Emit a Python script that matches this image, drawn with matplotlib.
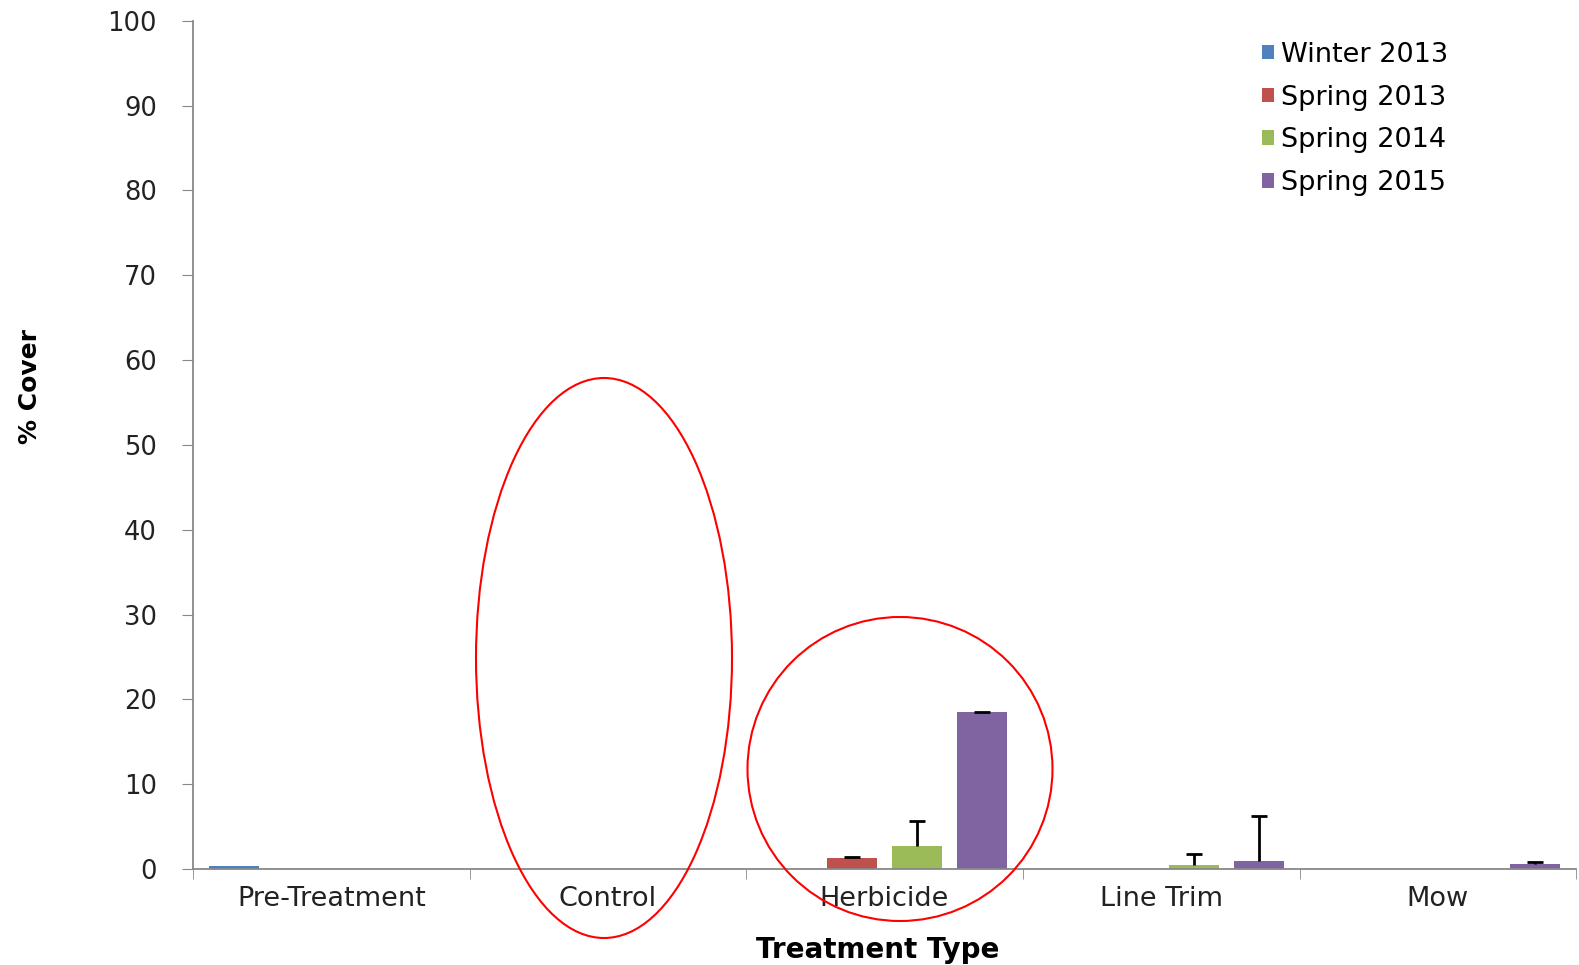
import matplotlib.pyplot as plt
import numpy as np
from matplotlib.patches import Ellipse

plt.rcParams['font.family'] = ['DejaVu Sans']

# Данные: % Cover по типам обработки
treatments = ['Pre-Treatment', 'Control', 'Herbicide', 'Line Trim', 'Mow']
series = ['Winter 2013', 'Spring 2013', 'Spring 2014', 'Spring 2015']
colors = ['#4F81BD', '#C0504D', '#9BBB59', '#8064A2']

winter_2013 = [0.3, 0, 0, 0, 0]
spring_2013 = [0, 0, 1.3, 0, 0]
spring_2014 = [0, 0, 2.7, 0.5, 0]
spring_2015 = [0, 0, 18.5, 1.0, 0.55]

winter_2013_err = [0, 0, 0, 0, 0]
spring_2013_err = [0, 0, 0.15, 0, 0]
spring_2014_err = [0, 0, 2.9, 1.3, 0]
spring_2015_err = [0, 0, 0.05, 5.3, 0.3]

values = [winter_2013, spring_2013, spring_2014, spring_2015]
errors = [winter_2013_err, spring_2013_err, spring_2014_err, spring_2015_err]

fig = plt.figure(figsize=(15.79, 9.65), dpi=100)
ax = fig.add_axes([0.1222, 0.0995, 0.876, 0.879])

x = np.arange(len(treatments))
step = 0.235
width = 0.18
for i, (vals, errs, name, col) in enumerate(zip(values, errors, series, colors)):
    pos = x + (i - 1.5) * step
    ax.bar(pos, vals, width, color=col, label=name, zorder=2)
    errs = np.array(errs)
    m = errs > 0
    if m.any():
        eb = ax.errorbar(pos[m], np.array(vals)[m], yerr=[np.zeros(m.sum()), errs[m]],
                         fmt='none', ecolor='black', elinewidth=2, capsize=5.5, capthick=2, zorder=3)
        eb[1][0].set_visible(False)  # только верхний "ус"

ax.set_xlim(-0.5, 4.5)
ax.set_ylim(0, 100)
ax.set_yticks(range(0, 101, 10))
ax.set_xticks(x)
ax.set_xticklabels(treatments, fontsize=19.5)
ax.set_xticks(np.arange(-0.5, 4.6, 1), minor=True)
ax.tick_params(axis='x', which='major', length=0, pad=12, colors='#222222')
ax.tick_params(axis='x', which='minor', length=7, color='#888888', direction='out')
ax.tick_params(axis='y', labelsize=18.5, length=8, pad=18, colors='#222222')
ax.tick_params(axis='y', color='#888888')
for s in ['top', 'right']:
    ax.spines[s].set_visible(False)
for s in ['left', 'bottom']:
    ax.spines[s].set_color('#888888')
    ax.spines[s].set_linewidth(1.3)

fig.text(0.556, 0.016, 'Treatment Type', fontsize=20, fontweight='bold', ha='center', va='center')
fig.text(0.019, 0.60, '% Cover', fontsize=18, fontweight='bold', rotation=90, ha='center', va='center')

leg = ax.legend(loc='upper right', bbox_to_anchor=(0.925, 1.004), frameon=False, fontsize=19.5,
                handlelength=0.45, handleheight=0.45, handletextpad=0.25, labelspacing=0.62)

# Красные эллипсы-выделения поверх графика
ov = fig.add_axes([0, 0, 1, 1], facecolor='none')
ov.set_xlim(0, 1579)
ov.set_ylim(965, 0)
ov.axis('off')
ov.add_patch(Ellipse((604, 658), 256, 560, fill=False, edgecolor='red', linewidth=1.5))
ov.add_patch(Ellipse((900, 769), 305, 304, fill=False, edgecolor='red', linewidth=1.5))

fig.savefig('out.png', dpi=100)
